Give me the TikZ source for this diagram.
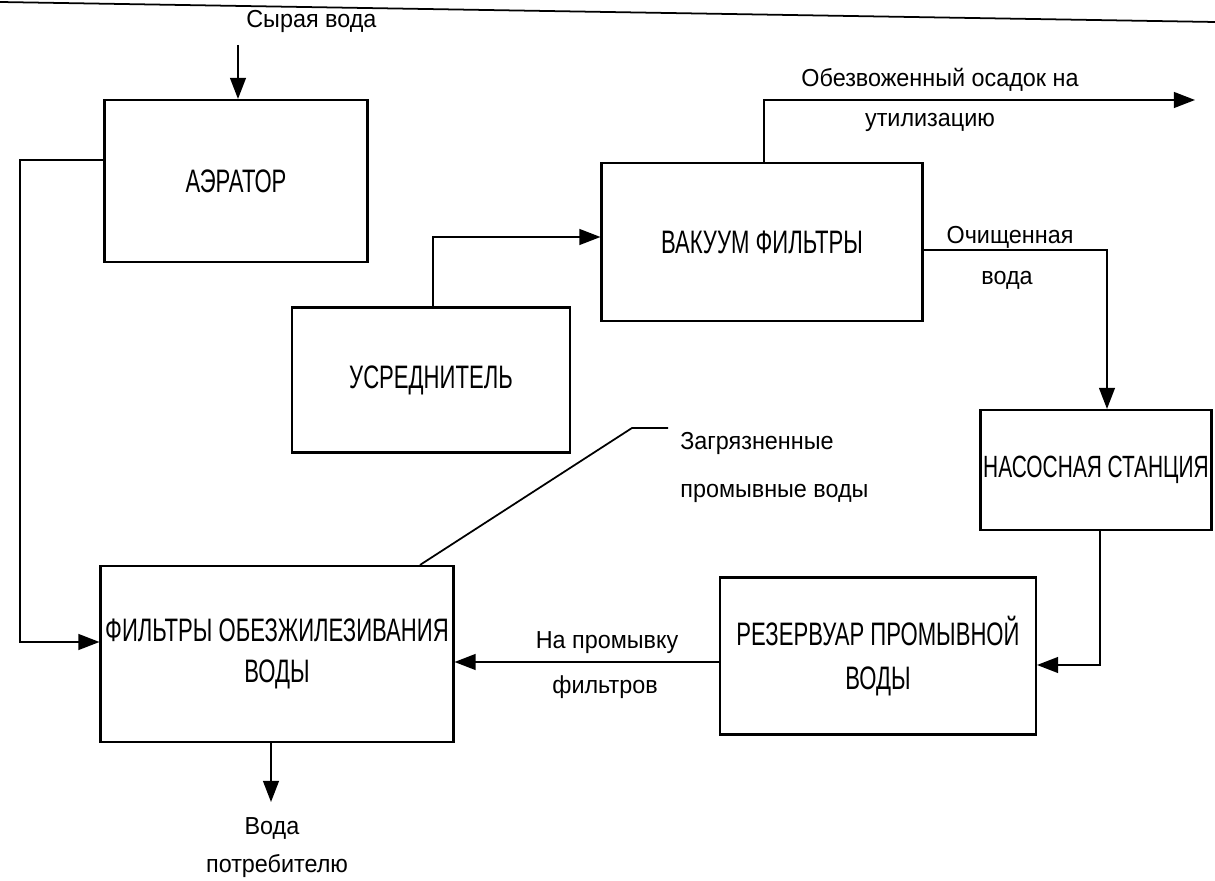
\documentclass[tikz,border=0pt]{standalone}
\usepackage{fontspec}
\setmainfont{Liberation Sans}
\newfontfamily\boxfont[FakeStretch=0.68]{Liberation Sans}
\newfontfamily\lblfont[FakeStretch=0.95]{Liberation Sans}
\usetikzlibrary{arrows.meta}
\begin{document}
\begin{tikzpicture}[x=0.02cm,y=-0.02cm,
  boxst/.style={draw,line width=1.2pt,inner sep=0pt,align=center,
    font=\boxfont\fontsize{18.5}{23}\selectfont},
  lbl/.style={inner sep=0pt,font=\lblfont\fontsize{14}{16}\selectfont},
  conn/.style={line width=1pt},
  arr/.style={conn,-{Triangle[length=12pt,width=9pt]}}]
\useasboundingbox (0,0) rectangle (1215,881);
% scanned page edge
\draw[line width=1pt] (0,2) -- (1215,22);
% boxes
\node[boxst,minimum width=5.26cm,minimum height=3.24cm] (aer) at (236,181) {АЭРАТОР};
\node[boxst,minimum width=6.42cm,minimum height=3.16cm] (vac) at (762,242) {ВАКУУМ ФИЛЬТРЫ};
\node[boxst,minimum width=5.56cm,minimum height=2.9cm] (usr) at (431,380) {УСРЕДНИТЕЛЬ};
\node[boxst,minimum width=4.62cm,minimum height=2.4cm,
  font=\boxfont\fontsize{17.5}{21}\selectfont] (nas) at (1096,470) {НАСОСНАЯ СТАНЦИЯ};
\node[boxst,minimum width=6.32cm,minimum height=3.14cm] (rez) at (878,656) {РЕЗЕРВУАР ПРОМЫВНОЙ\\[2pt]ВОДЫ};
\node[boxst,minimum width=7.06cm,minimum height=3.52cm] (fil) at (277,654) {ФИЛЬТРЫ ОБЕЗЖИЛЕЗИВАНИЯ\\ВОДЫ};
% coordinates
\coordinate (src) at (238,45);
\coordinate (k1) at (20,160);
\coordinate (k2) at (20,642);
\coordinate (k3) at (433,237);
\coordinate (k4) at (764,100);
\coordinate (k5) at (1195,100);
\coordinate (k6) at (1107,250);
\coordinate (k7) at (1100,665);
\coordinate (k8) at (0,662);
\coordinate (k9) at (420,0);
\coordinate (k10) at (632,428);
\coordinate (k11) at (668,428);
\coordinate (k12) at (271,802);
% connectors
\draw[arr] (src) -- (src |- aer.north);
\draw[arr] (aer.west |- k1) -- (k1) -- (k2) -- (fil.west |- k2);
\draw[arr] (usr.north -| k3) -- (k3) -- (vac.west |- k3);
\draw[arr] (vac.north -| k4) -- (k4) -- (k5);
\draw[arr] (vac.east |- k6) -- (k6) -- (nas.north -| k6);
\draw[arr] (nas.south -| k7) -- (k7) -- (rez.east |- k7);
\draw[arr] (rez.west |- k8) -- (fil.east |- k8);
\draw[conn] (fil.north -| k9) -- (k10) -- (k11);
\draw[arr] (fil.south -| k12) -- (k12);
% labels
\node[lbl,anchor=west] (t1) at (246,21) {Сырая вода};
\node[lbl] (t2) at (940,80) {Обезвоженный осадок на};
\node[lbl] (t3) at (930,122) {утилизацию};
\node[lbl] (t4) at (1010,237) {Очищенная};
\node[lbl] (t5) at (1007,280) {вода};
\node[lbl,anchor=west] (t6) at (680,443) {Загрязненные};
\node[lbl,anchor=west] (t7) at (680,493) {промывные воды};
\node[lbl] (t8) at (607,643) {На промывку};
\node[lbl] (t9) at (605,687) {фильтров};
\node[lbl] (t10) at (272,828) {Вода};
\node[lbl] (t11) at (277,866) {потребителю};
\end{tikzpicture}
\end{document}
